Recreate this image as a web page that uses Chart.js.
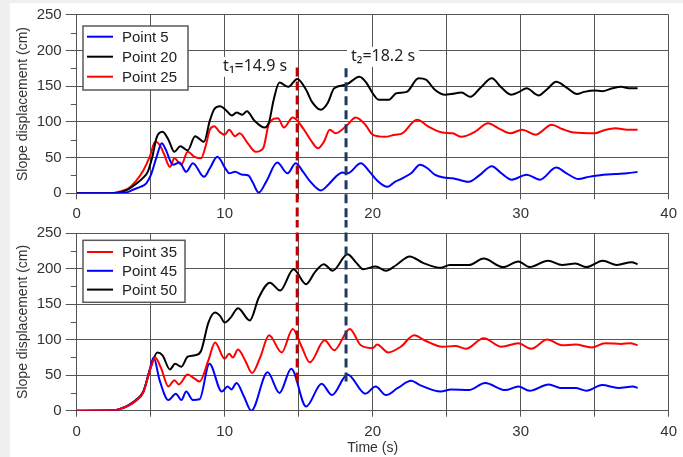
<!DOCTYPE html>
<html>
<head>
<meta charset="utf-8">
<script src="https://cdn.jsdelivr.net/npm/chart.js@4.4.0/dist/chart.umd.min.js"></script>
<style>
body{margin:0;background:#f0f0f0;width:683px;height:457px;overflow:hidden;position:relative}
#sheet{position:absolute;left:10px;top:3px;width:673px;height:454px;background:#fff}
canvas{position:absolute;left:0}
#top{top:0}
#bottom{top:220px}
</style>
</head>
<body>
<div id="sheet"></div>
<canvas id="top" width="683" height="220"></canvas>
<canvas id="bottom" width="683" height="237"></canvas>
<script>
// tick labels
const xTickLabels = [0, 10, 20, 30, 40];
const yTickLabels = [0, 50, 100, 150, 200, 250];
const yMinorTicks = [25, 75, 125, 175, 225];

// time markers
const eventTimes = [14.9, 18.2];
const eventLabels = ['t\u2081=14.9 s', 't\u2082=18.2 s'];

// upper panel: Point 5, 20, 25
const p5T = [0,3,3.5,3.8,4.3,4.7,5.0,5.4,5.75,6.0,6.5,6.95,7.4,7.85,8.6,9.0,9.5,10.1,10.3,10.7,11.2,11.6,11.9,12.3,12.8,13.55,14.25,14.8,15.3,15.8,16.5,17.0,17.5,17.95,18.3,19.2,19.8,20.3,21.0,21.5,22.0,22.6,23.2,23.7,24.2,24.8,25.4,26.0,26.5,27.2,28.05,28.7,29.4,30.4,31.3,32.4,33.1,33.9,34.6,35.2,36.4,37.2,37.9];
const p5V = [0,0.5,2,5,9,14,25,51,70,62,40,43,30,42,23,35,51,33,28,30,26,25,15,1,16,43,28,42,30,16,4,12,23,29,28,42,30,18,9,16,21,28,40,35,26,22,21,18,16,25,38,28,19,26,19,36,28,20,23,25,27,28,30];

const p20T = [0,2.5,3,3.5,4,4.5,4.8,5.1,5.4,5.8,6.2,6.6,7.0,7.5,8.0,8.6,9.0,9.3,9.7,10.1,10.5,10.8,11.2,11.5,12.0,12.7,13.0,13.3,13.7,14.3,14.9,15.5,15.9,16.5,16.95,17.4,18.2,19.1,19.6,20.0,20.4,21.1,21.6,22.3,23.1,23.6,24.2,24.9,25.3,26.0,26.6,27.3,28.05,28.7,29.35,29.9,30.4,31.2,31.8,32.4,33.1,33.8,34.3,35.0,35.5,36.2,36.8,37.3,37.9];
const p20V = [0,0.5,2,6,13,22,30,50,78,86,75,58,66,60,80,72,102,118,122,116,109,113,110,115,102,92,100,130,155,149,160,145,128,117,126,147,152,163,154,140,131,131,140,142,161,159,145,138,139,141,135,148,161,148,138,142,147,137,146,156,148,139,142,144,143,147,149,147,147];

const p25T = [0,2.5,3,3.5,4,4.5,4.95,5.3,5.6,5.9,6.3,6.6,7.07,7.5,7.97,8.4,8.7,9.0,9.3,9.65,10.0,10.3,10.7,11.0,11.56,12.1,12.6,13.0,13.6,14.0,14.6,15.3,15.8,16.3,16.7,17.1,17.5,18.3,18.85,19.5,20.0,20.8,21.5,22.0,23.0,23.8,24.7,25.4,26.0,26.9,27.8,28.5,29.3,30.1,31.0,32.1,32.8,33.6,35.0,35.6,36.4,37.2,37.9];
const p25V = [0,0.5,3,7,17,32,52,72,68,55,37,49,40,58,51,49,65,89,94,86,82,89,80,84,70,58,63,98,105,92,106,91,75,63,72,89,84,96,106,96,82,79,82,84,103,93,85,84,79,86,98,91,84,89,82,96,90,85,84,88,91,89,89];

// lower panel: Point 35, 45, 50
const p35T = [0,2.5,3,3.5,4,4.5,5.0,5.3,5.7,6.2,6.6,6.9,7.5,7.97,8.3,8.9,9.35,10.0,10.3,10.55,10.9,11.4,11.85,12.4,13.0,13.85,14.6,15.2,15.75,16.75,17.4,18.45,19.2,20.0,20.3,21.05,21.9,22.8,23.6,24.7,25.6,26.3,27.5,28.7,29.85,30.7,31.8,32.8,33.7,34.8,35.7,36.8,37.4,37.9];
const p35V = [0,0.5,3,7,14,26,60,75,60,34,43,37,51,45,41,71,96,73,80,75,86,70,53,75,106,82,115,90,68,99,85,115,92,88,93,82,90,106,98,90,91,87,102,90,95,87,100,92,93,89,95,94,95,92];

const p45T = [0,2.5,3,3.5,4,4.5,4.9,5.2,5.6,6.2,6.7,7.07,7.4,7.85,8.3,8.97,9.8,10.2,10.45,10.8,11.3,11.8,12.9,13.7,14.5,15.5,16.55,17.25,18.3,19.5,20.2,20.9,21.7,22.6,23.2,24.6,25.3,26.5,27.6,28.95,29.85,30.6,31.9,32.7,33.7,34.45,35.5,36.6,37.6,37.9];
const p45V = [0,0.5,3,7,14,26,55,75,43,15,24,15,27,15,16,66,27,34,30,39,20,0,54,25,59,6,38,22,51,24,34,22,32,42,36,27,30,29,39,29,34,28,37,32,32,28,36,32,34,32];

const p50T = [0,2.5,3,3.5,4,4.5,5.0,5.45,5.8,6.3,6.65,7.07,7.5,8.0,8.4,8.9,9.35,9.7,10.0,10.4,10.9,11.7,12.3,13.05,13.75,14.65,15.5,16.1,16.7,17.3,18.3,18.9,19.35,20.2,20.9,21.6,22.5,23.4,24.6,25.2,26.5,27.5,28.8,29.85,30.6,31.85,32.8,33.7,34.45,35.55,36.5,37.5,37.9];
const p50V = [0,0.5,3,8,15,27,61,82,78,58,66,62,76,78,84,124,138,133,124,131,144,127,159,180,169,199,178,195,206,197,220,208,199,203,197,205,217,208,201,205,205,214,202,210,202,211,205,207,202,211,205,209,206];

const FONT = '"Liberation Sans", Arial, sans-serif';
const GRID = '#555555';
const BLUE = '#0000ff', BLACK = '#000000', RED = '#ff0000';

function pts(t, v) {
  return t.map((x, i) => ({x: x, y: v[i]}));
}

function series(label, t, v, color) {
  return {label: label, data: pts(t, v), borderColor: color, borderWidth: 2,
    pointRadius: 0, cubicInterpolationMode: 'monotone', fill: false, order: 1};
}

function marker(i, yTop, yBottom, color) {
  return {label: eventLabels[i], isEvent: true,
    data: [{x: eventTimes[i], y: yTop}, {x: eventTimes[i], y: yBottom}],
    borderColor: color, borderWidth: 3, borderDash: [9, 5], pointRadius: 0,
    clip: false, order: 0};
}

// short minor ticks on the y axis
const minorTicks = {
  id: 'minorTicks',
  afterDraw(chart) {
    const ys = chart.scales.y, ctx = chart.ctx, left = chart.chartArea.left;
    ctx.save();
    ctx.strokeStyle = GRID;
    ctx.lineWidth = 1;
    yMinorTicks.forEach(v => {
      const py = Math.round(ys.getPixelForValue(v)) + 0.5;
      ctx.beginPath();
      ctx.moveTo(left - 6, py);
      ctx.lineTo(left, py);
      ctx.stroke();
    });
    ctx.restore();
  }
};

// legend in a framed box inside the plot
const boxLegend = {
  id: 'boxLegend',
  afterDraw(chart, args, o) {
    const ctx = chart.ctx, a = chart.chartArea;
    const items = chart.data.datasets.filter(d => !d.isEvent);
    const x = a.left + o.dx, y = a.top + o.dy;
    ctx.save();
    ctx.fillStyle = '#fff';
    ctx.fillRect(x, y, o.w, o.h);
    ctx.strokeStyle = '#595959';
    ctx.lineWidth = 1.5;
    ctx.strokeRect(x, y, o.w, o.h);
    ctx.font = '15px ' + FONT;
    ctx.textBaseline = 'middle';
    items.forEach((d, i) => {
      const cy = y + o.first + i * o.row;
      ctx.strokeStyle = d.borderColor;
      ctx.lineWidth = 2;
      ctx.beginPath();
      ctx.moveTo(x + 4, cy);
      ctx.lineTo(x + 30, cy);
      ctx.stroke();
      ctx.fillStyle = '#222';
      ctx.fillText(d.label, x + 39, cy + 1);
    });
    ctx.restore();
  }
};

// t1 / t2 labels next to the dashed lines
const eventText = {
  id: 'eventText',
  afterDatasetsDraw(chart, args, o) {
    if (!o.show) return;
    const xs = chart.scales.x, ys = chart.scales.y, ctx = chart.ctx;
    ctx.save();
    ctx.font = '16px "Noto Sans", sans-serif';
    ctx.textBaseline = 'middle';
    eventTimes.forEach((t, i) => {
      const px = xs.getPixelForValue(t), py = ys.getPixelForValue(o.levels[i]);
      const w = ctx.measureText(eventLabels[i]).width;
      const left = i === 0 ? px - 10 - w : px + 5;
      ctx.fillStyle = '#fff';
      ctx.fillRect(left - 4, py - 10, w + 8, 20);
      ctx.fillStyle = '#222';
      ctx.fillText(eventLabels[i], left, py);
    });
    ctx.restore();
  }
};

function makeScales(xTitle, xHeight) {
  return {
    x: {
      type: 'linear', min: 0, max: 40,
      ticks: {stepSize: 5, autoSkip: false, maxRotation: 0, padding: 6, color: '#333',
        font: {size: 15, family: FONT},
        callback: v => xTickLabels.includes(v) ? v : ''},
      grid: {color: GRID, tickColor: GRID, tickLength: 6, lineWidth: 1},
      border: {display: false},
      title: {display: !!xTitle, text: xTitle || '', color: '#333',
        font: {size: 14, family: FONT}, padding: 0},
      afterFit: s => { s.height = xHeight; }
    },
    y: {
      min: 0, max: 250,
      ticks: {stepSize: 50, autoSkip: false, padding: 4, color: '#333',
        font: {size: 15, family: FONT},
        callback: v => yTickLabels.includes(v) ? v : ''},
      grid: {color: GRID, tickColor: GRID, tickLength: 11},
      border: {display: true, color: GRID},
      title: {display: true, text: 'Slope displacement (cm)', color: '#333',
        font: {size: 14, family: FONT}, padding: {top: 4, bottom: 4}},
      afterFit: s => { s.width = 65.7; }
    }
  };
}

Chart.defaults.font.family = FONT;

new Chart(document.getElementById('top'), {
  type: 'line',
  data: {
    datasets: [
      series('Point 5', p5T, p5V, BLUE),
      series('Point 20', p20T, p20V, BLACK),
      series('Point 25', p25T, p25V, RED),
      marker(0, 176, -60, '#c00000'),
      marker(1, 175, -60, '#1f3864')
    ]
  },
  options: {
    responsive: false, animation: false, devicePixelRatio: 1,
    layout: {padding: {left: 11, right: 12.3, top: 14.7, bottom: 0}},
    scales: makeScales('', 26.7),
    plugins: {
      legend: {display: false}, tooltip: {enabled: false},
      boxLegend: {dx: 6.3, dy: 11.3, w: 105, h: 64, first: 10.7, row: 20},
      eventText: {show: true, levels: [177, 191]}
    }
  },
  plugins: [minorTicks, boxLegend, eventText]
});

new Chart(document.getElementById('bottom'), {
  type: 'line',
  data: {
    datasets: [
      series('Point 35', p35T, p35V, RED),
      series('Point 45', p45T, p45V, BLUE),
      series('Point 50', p50T, p50V, BLACK),
      marker(0, 290, 35, '#c00000'),
      marker(1, 290, 35, '#1f3864')
    ]
  },
  options: {
    responsive: false, animation: false, devicePixelRatio: 1,
    layout: {padding: {left: 11, right: 12.3, top: 11.7, bottom: 0}},
    scales: makeScales('Time (s)', 46.3),
    plugins: {
      legend: {display: false}, tooltip: {enabled: false},
      boxLegend: {dx: 6.3, dy: 7.3, w: 102, h: 62, first: 11.7, row: 18.8},
      eventText: {show: false}
    }
  },
  plugins: [minorTicks, boxLegend, eventText]
});
</script>
</body>
</html>
